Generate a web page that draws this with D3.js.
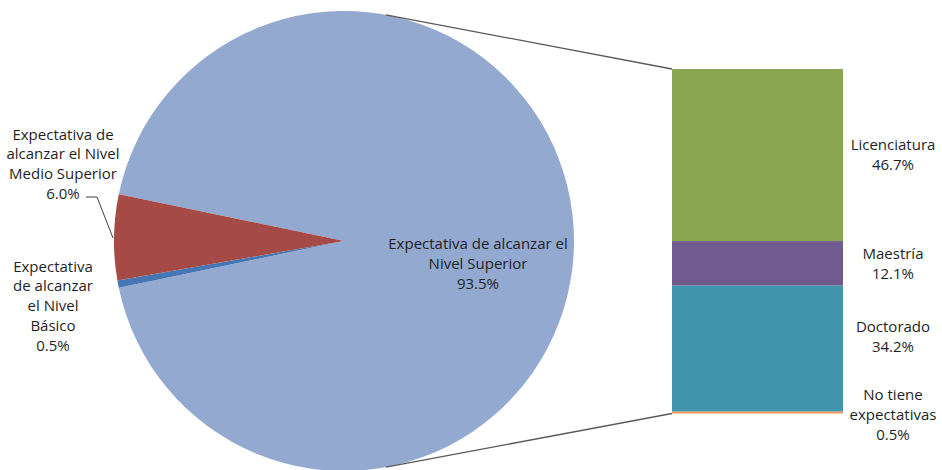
<!DOCTYPE html>
<html>
<head>
<meta charset="utf-8">
<script src="https://cdn.jsdelivr.net/npm/d3@7"></script>
<style>
  body { margin: 0; background: #fff; }
  text { font-family: "Open Sans", sans-serif; font-size: 15px; fill: #1f1f1f; }
</style>
</head>
<body>
<div id="chart"></div>
<script>
// pie (first level)
var pieNames = ['Expectativa de alcanzar el Nivel Superior', 'Expectativa de alcanzar el Nivel Básico', 'Expectativa de alcanzar el Nivel Medio Superior'];
var pieValues = [93.5, 0.5, 6.0];
var pieColors = ['#94A9D0', '#4677B4', '#A64A46'];

// bar (breakdown of Nivel Superior)
var barNames = ['Licenciatura', 'Maestría', 'Doctorado', 'No tiene expectativas'];
var barValues = [46.7, 12.1, 34.2, 0.5];
var barColors = ['#8AA54F', '#715A8D', '#4196AE', '#F29B57'];

var settings = {
  width: 942,
  height: 470,
  cx: 344,
  cy: 241,
  radius: 230,
  bar_left: 672,
  bar_right: 843,
  bar_top: 69,
  line_angle: 10.5,
  line_height: 19.8
};

var rad = function(deg) { return deg * Math.PI / 180; };

var svg = d3.select('#chart').append('svg')
  .attr('width', settings.width)
  .attr('height', settings.height);

// split slice is centred on 3 o'clock
var start = 90 - pieValues[0] / 100 * 180;

var pie = d3.pie().sort(null)
  .startAngle(rad(start))
  .endAngle(rad(start + 360));

var arc = d3.arc().innerRadius(0).outerRadius(settings.radius);

var pieG = svg.append('g')
  .attr('transform', 'translate(' + settings.cx + ',' + settings.cy + ')');

pieG.selectAll('path')
  .data(pie(pieValues))
  .enter().append('path')
  .attr('d', arc)
  .style('fill', function(d, i) { return pieColors[i]; });

// stacked bar
var barTotal = d3.sum(barValues);
var y = d3.scaleLinear()
  .domain([0, barTotal])
  .range([settings.bar_top, settings.bar_top + 344.5]);

var stacked = [];
var acc = 0;
barValues.forEach(function(v, i) {
  stacked.push({ name: barNames[i], value: v, y0: acc, y1: acc + v, color: barColors[i] });
  acc += v;
});

svg.selectAll('rect.seg')
  .data(stacked)
  .enter().append('rect')
  .attr('class', 'seg')
  .attr('x', settings.bar_left)
  .attr('width', settings.bar_right - settings.bar_left)
  .attr('y', function(d) { return y(d.y0); })
  .attr('height', function(d) { return Math.max(y(d.y1) - y(d.y0), 1.5); })
  .style('fill', function(d) { return d.color; });

// connector lines
var onCircle = function(deg) {
  return [settings.cx + settings.radius * Math.sin(rad(deg)), settings.cy - settings.radius * Math.cos(rad(deg))];
};
var p1 = onCircle(settings.line_angle);
var p2 = onCircle(180 - settings.line_angle);

svg.append('line')
  .attr('x1', p1[0]).attr('y1', p1[1])
  .attr('x2', settings.bar_left).attr('y2', y(0))
  .style('stroke', '#595959').style('stroke-width', 1.3);

svg.append('line')
  .attr('x1', p2[0]).attr('y1', p2[1])
  .attr('x2', settings.bar_left).attr('y2', y(barTotal))
  .style('stroke', '#595959').style('stroke-width', 1.3);

// labels
function label(lines, x, yc) {
  var t = svg.append('text')
    .attr('text-anchor', 'middle');
  var n = lines.length;
  lines.forEach(function(l, i) {
    t.append('tspan')
      .attr('x', x)
      .attr('y', yc + (i - (n - 1) / 2) * settings.line_height)
      .attr('dy', '0.35em')
      .text(l);
  });
}

var fmt = function(v) { return v.toFixed(1) + '%'; };

label(['Expectativa de alcanzar el', 'Nivel Superior', fmt(pieValues[0])], 478, 264);
label(['Expectativa de', 'alcanzar el Nivel', 'Medio Superior', fmt(pieValues[2])], 63, 164);
label(['Expectativa', 'de alcanzar', 'el Nivel', 'Básico', fmt(pieValues[1])], 53, 306);

var barLabelLines = [
  ['Licenciatura'],
  ['Maestría'],
  ['Doctorado'],
  ['No tiene', 'expectativas']
];
var barLabelShift = [0, 0, -12, 2];
stacked.forEach(function(d, i) {
  var mid = (y(d.y0) + y(d.y1)) / 2;
  label(barLabelLines[i].concat([fmt(d.value)]), 893, mid + barLabelShift[i]);
});

// leader line for Medio Superior
svg.append('polyline')
  .attr('points', [[86, 197], [97, 197], [113, 238]].map(function(p) { return p.join(','); }).join(' '))
  .style('fill', 'none')
  .style('stroke', '#404040')
  .style('stroke-width', 1);
</script>
</body>
</html>
